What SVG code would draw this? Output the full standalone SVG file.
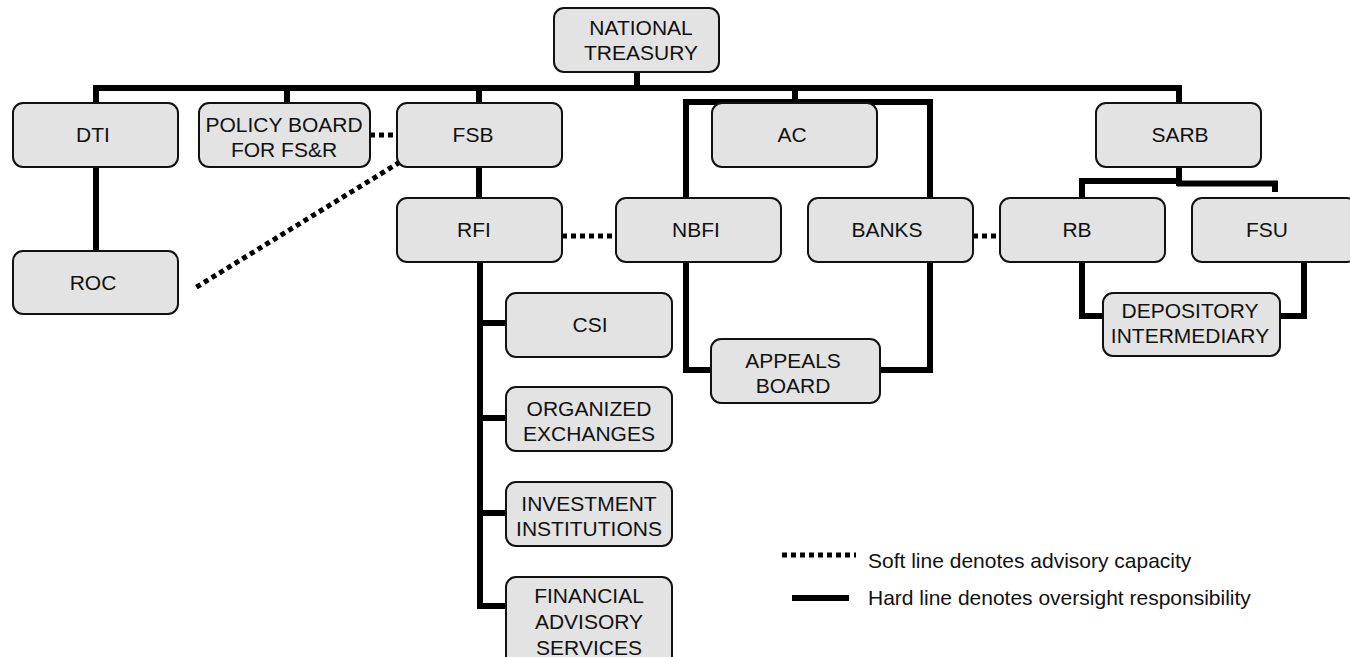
<svg xmlns="http://www.w3.org/2000/svg" width="1350" height="657" viewBox="0 0 1350 657">
  <style>
    .box { fill: #e3e3e3; stroke: #111; stroke-width: 2; }
    .lbl { font-family: "Liberation Sans", Arial, Helvetica, sans-serif; font-size: 21px; fill: #111; text-anchor: middle; }
    .leg { font-family: "Liberation Sans", Arial, Helvetica, sans-serif; font-size: 21px; fill: #111; }
    .hard { fill: none; stroke: #000; stroke-width: 6; stroke-linejoin: miter; stroke-linecap: butt; }
    .soft { fill: none; stroke: #000; stroke-width: 5; stroke-dasharray: 5 4; stroke-linecap: butt; }
  </style>
  <rect width="1350" height="657" fill="#fff"/>

  <!-- connectors -->
  <g id="connectors">
    <!-- treasury bus -->
    <path class="hard" d="M637 72 V88"/>
    <path class="hard" d="M96 103 V88 H1179 V103"/>
    <path class="hard" d="M287 88 V103"/>
    <path class="hard" d="M479 88 V103"/>
    <path class="hard" d="M795 88 V102"/>
    <!-- AC bracket over NBFI and BANKS -->
    <path class="hard" d="M686 198 V102 H930 V198"/>
    <path class="hard" d="M686 262 V370 H930 V262"/>
    <!-- DTI to ROC -->
    <path class="hard" d="M96 167 V251"/>
    <!-- FSB to RFI -->
    <path class="hard" d="M479 167 V198"/>
    <!-- RFI spine -->
    <path class="hard" d="M480 262 V606 H506"/>
    <path class="hard" d="M480 323 H506"/>
    <path class="hard" d="M480 418 H506"/>
    <path class="hard" d="M480 513 H506"/>
    <!-- SARB bracket -->
    <path class="hard" d="M1179 167 V186"/>
    <path class="hard" d="M1082 198 V181 H1180"/>
    <path class="hard" d="M1177 183.5 H1275 V192"/>
    <!-- RB / FSU to depository intermediary -->
    <path class="hard" d="M1082 262 V316 H1103"/>
    <path class="hard" d="M1304 262 V316 H1280"/>
    <!-- advisory links -->
    <path class="soft" d="M370 135 H397"/>
    <path class="soft" d="M400 162 L195 288"/>
    <path class="soft" d="M562 236 H616"/>
    <path class="soft" d="M973 236 H1000"/>
  </g>

  <g id="national-treasury">
    <rect class="box" x="554" y="8" width="165" height="64" rx="10"/>
    <text class="lbl" x="641" y="35">NATIONAL</text>
    <text class="lbl" x="641" y="60">TREASURY</text>
  </g>
  <g id="dti">
    <rect class="box" x="13" y="103" width="165" height="64" rx="10"/>
    <text class="lbl" x="93" y="142">DTI</text>
  </g>
  <g id="policy-board">
    <rect class="box" x="199" y="103" width="171" height="64" rx="10"/>
    <text class="lbl" x="284" y="132">POLICY BOARD</text>
    <text class="lbl" x="284" y="157">FOR FS&amp;R</text>
  </g>
  <g id="fsb">
    <rect class="box" x="397" y="103" width="165" height="64" rx="10"/>
    <text class="lbl" x="473" y="142">FSB</text>
  </g>
  <g id="ac">
    <rect class="box" x="712" y="103" width="165" height="64" rx="10"/>
    <text class="lbl" x="792" y="142">AC</text>
  </g>
  <g id="sarb">
    <rect class="box" x="1096" y="103" width="165" height="64" rx="10"/>
    <text class="lbl" x="1180" y="142">SARB</text>
  </g>
  <g id="roc">
    <rect class="box" x="13" y="251" width="165" height="63" rx="10"/>
    <text class="lbl" x="93" y="290">ROC</text>
  </g>
  <g id="rfi">
    <rect class="box" x="397" y="198" width="165" height="64" rx="10"/>
    <text class="lbl" x="474" y="237">RFI</text>
  </g>
  <g id="nbfi">
    <rect class="box" x="616" y="198" width="165" height="64" rx="10"/>
    <text class="lbl" x="696" y="237">NBFI</text>
  </g>
  <g id="banks">
    <rect class="box" x="808" y="198" width="165" height="64" rx="10"/>
    <text class="lbl" x="887" y="237">BANKS</text>
  </g>
  <g id="rb">
    <rect class="box" x="1000" y="198" width="165" height="64" rx="10"/>
    <text class="lbl" x="1077" y="237">RB</text>
  </g>
  <g id="fsu">
    <rect class="box" x="1192" y="198" width="165" height="64" rx="10"/>
    <text class="lbl" x="1267" y="237">FSU</text>
  </g>
  <g id="csi">
    <rect class="box" x="506" y="293" width="166" height="64" rx="10"/>
    <text class="lbl" x="590" y="332">CSI</text>
  </g>
  <g id="appeals-board">
    <rect class="box" x="711" y="339" width="169" height="64" rx="10"/>
    <text class="lbl" x="793" y="368">APPEALS</text>
    <text class="lbl" x="793" y="393">BOARD</text>
  </g>
  <g id="depository-intermediary">
    <rect class="box" x="1103" y="293" width="177" height="63" rx="10"/>
    <text class="lbl" x="1190" y="318">DEPOSITORY</text>
    <text class="lbl" x="1190" y="343">INTERMEDIARY</text>
  </g>
  <g id="organized-exchanges">
    <rect class="box" x="506" y="387" width="166" height="64" rx="10"/>
    <text class="lbl" x="589" y="416">ORGANIZED</text>
    <text class="lbl" x="589" y="441">EXCHANGES</text>
  </g>
  <g id="investment-institutions">
    <rect class="box" x="506" y="482" width="166" height="64" rx="10"/>
    <text class="lbl" x="589" y="511">INVESTMENT</text>
    <text class="lbl" x="589" y="536">INSTITUTIONS</text>
  </g>
  <g id="financial-advisory-services">
    <rect class="box" x="506" y="577" width="166" height="89" rx="10"/>
    <text class="lbl" x="589" y="603">FINANCIAL</text>
    <text class="lbl" x="589" y="629">ADVISORY</text>
    <text class="lbl" x="589" y="655">SERVICES</text>
  </g>

  <!-- key -->
  <g id="legend">
    <path class="soft" d="M782 555 H856"/>
    <text class="leg" x="868" y="568">Soft line denotes advisory capacity</text>
    <path class="hard" d="M792 598 H849"/>
    <text class="leg" x="868" y="605">Hard line denotes oversight responsibility</text>
  </g>
</svg>
